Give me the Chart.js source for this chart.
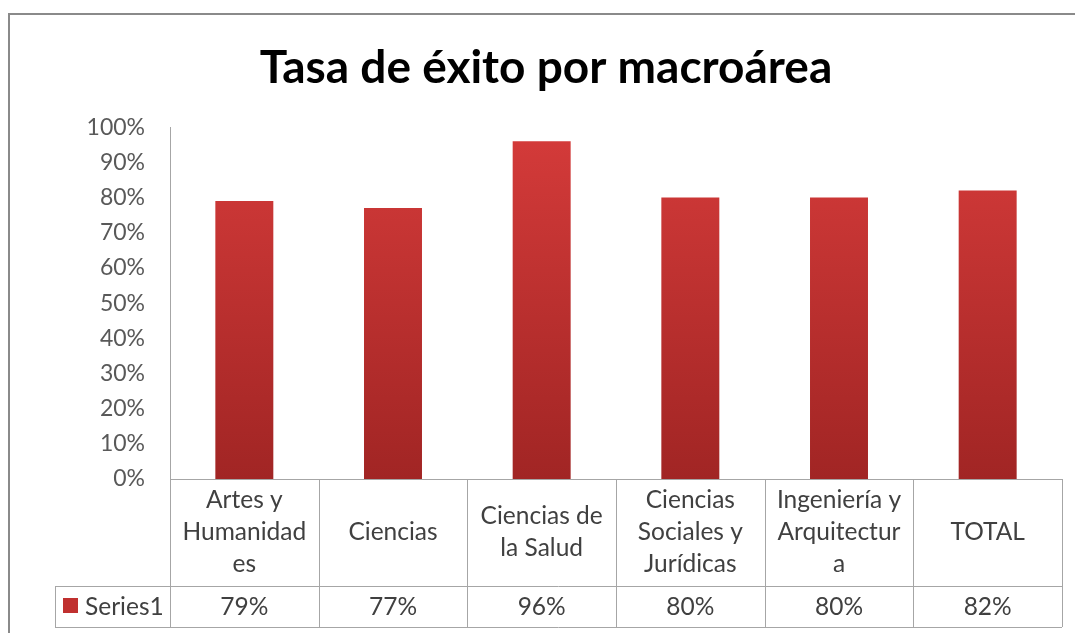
<!DOCTYPE html>
<html>
<head>
<meta charset="utf-8">
<script src="https://cdn.jsdelivr.net/npm/chart.js@4/dist/chart.umd.min.js"></script>
<style>
  html, body { margin: 0; background: #fff; overflow: hidden; }
</style>
</head>
<body>
<canvas id="grafico" width="1075" height="633"></canvas>
<script>
// datos del grafico
const titulo = "Tasa de éxito por macroárea"
const macroareas = [
  ["Artes y", "Humanidad", "es"],
  ["Ciencias"],
  ["Ciencias de", "la Salud"],
  ["Ciencias", "Sociales y", "Jurídicas"],
  ["Ingeniería y", "Arquitectur", "a"],
  ["TOTAL"]
]
const tasaExito = [0.79, 0.77, 0.96, 0.80, 0.80, 0.82]
const nombreSerie = "Series1"
const ticksY = [0, 0.1, 0.2, 0.3, 0.4, 0.5, 0.6, 0.7, 0.8, 0.9, 1]

const fuente = "Lato, 'Noto Sans', sans-serif"
const colorLinea = "#a6a6a6"
const colorTexto = "#404040"

const aPorcentaje = v => Math.round(v * 100) + "%"

// degradado rojo de las barras (arriba claro, abajo oscuro)
const colorBarra = (ctx) => {
  const area = ctx.chart.chartArea
  if (!area) return "#c0302f"
  const g = ctx.chart.ctx.createLinearGradient(0, area.top, 0, area.bottom)
  g.addColorStop(0, "#d53b3a")
  g.addColorStop(1, "#a12524")
  return g
}

// marco del grafico (solo se ve arriba y a la izquierda)
const marco = {
  id: "marco",
  beforeDraw(chart) {
    const {ctx, width, height} = chart
    ctx.save()
    ctx.strokeStyle = "#8a8a8a"
    ctx.lineWidth = 2
    ctx.beginPath()
    ctx.moveTo(width, 14); ctx.lineTo(9, 14); ctx.lineTo(9, height)
    ctx.stroke()
    ctx.restore()
  }
}

// tabla de datos debajo del eje x (como la de excel)
const tablaDatos = {
  id: "tablaDatos",
  afterDraw(chart) {
    const {ctx, chartArea, scales: {x}} = chart
    const ancho = (chartArea.right - chartArea.left) / macroareas.length
    const y0 = chartArea.bottom
    const y1 = y0 + 107 //fin fila de categorias
    const y2 = y1 + 41 //fin fila de valores
    const xLeyenda = 55

    ctx.save()
    ctx.strokeStyle = colorLinea
    ctx.lineWidth = 1
    ctx.beginPath()
    ctx.moveTo(chartArea.left, y0 + 0.5); ctx.lineTo(chartArea.right, y0 + 0.5)
    ctx.moveTo(xLeyenda, y1 + 0.5); ctx.lineTo(chartArea.right, y1 + 0.5)
    ctx.moveTo(xLeyenda, y2 + 0.5); ctx.lineTo(chartArea.right, y2 + 0.5)
    ctx.moveTo(xLeyenda + 0.5, y1); ctx.lineTo(xLeyenda + 0.5, y2)
    for (let i = 0; i <= macroareas.length; i++) {
      const xi = Math.round(chartArea.left + i * ancho) + 0.5
      ctx.moveTo(xi, y0); ctx.lineTo(xi, y2)
    }
    ctx.stroke()

    ctx.fillStyle = colorTexto
    ctx.font = "24.5px " + fuente
    ctx.textAlign = "center"
    ctx.textBaseline = "middle"
    const interlineado = 32
    macroareas.forEach((lineas, i) => {
      const cx = x.getPixelForValue(i)
      const cy = (y0 + y1) / 2 - (lineas.length - 1) * interlineado / 2
      lineas.forEach((txt, j) => ctx.fillText(txt, cx, cy + j * interlineado))
      ctx.fillText(aPorcentaje(tasaExito[i]), cx, (y1 + y2) / 2 + 1)
    })

    // leyenda dentro de la tabla
    ctx.fillStyle = "#c0302f"
    ctx.fillRect(xLeyenda + 8, y1 + 12, 15, 15)
    ctx.fillStyle = colorTexto
    ctx.textAlign = "left"
    ctx.fillText(nombreSerie, xLeyenda + 30, (y1 + y2) / 2 + 1)
    ctx.restore()
  }
}

new Chart(document.getElementById("grafico"), {
  type: "bar",
  data: {
    labels: macroareas,
    datasets: [{
      label: nombreSerie,
      data: tasaExito,
      backgroundColor: colorBarra,
      categoryPercentage: 1,
      barPercentage: 0.39
    }]
  },
  options: {
    responsive: false,
    animation: false,
    layout: { padding: { left: 30, right: 13, top: 0, bottom: 0 } }, //left 30 para centrar el titulo como en el original
    plugins: {
      legend: { display: false },
      tooltip: { enabled: false },
      title: {
        display: true,
        text: titulo,
        color: "#000",
        font: { family: fuente, size: 46, weight: "bold", lineHeight: 1.2 },
        padding: { top: 41, bottom: 31 }
      }
    },
    scales: {
      x: {
        grid: { display: false },
        border: { display: false },
        ticks: { display: false },
        afterFit: (escala) => { escala.height = 154 }
      },
      y: {
        min: 0,
        max: 1,
        afterBuildTicks: (escala) => { escala.ticks = ticksY.map(v => ({value: v})) },
        grid: { display: false },
        border: { display: true, color: colorLinea, width: 1 },
        ticks: {
          padding: 17,
          color: "#595959",
          font: { family: fuente, size: 23 },
          callback: v => aPorcentaje(v)
        },
        afterFit: (escala) => { escala.width = 140 }
      }
    }
  },
  plugins: [marco, tablaDatos]
})
</script>
</body>
</html>
